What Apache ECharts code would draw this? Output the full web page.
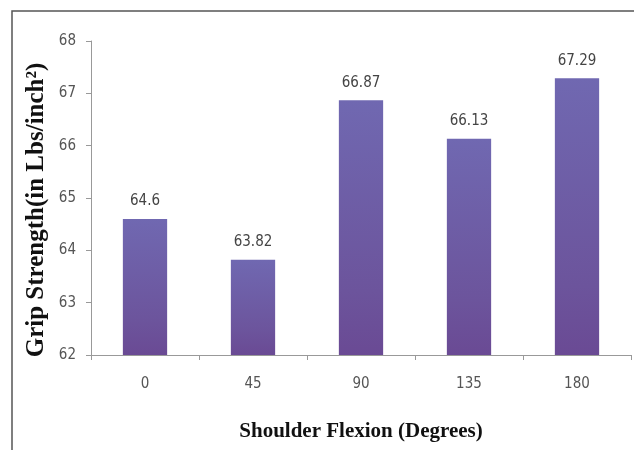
<!DOCTYPE html>
<html><head><meta charset="utf-8">
<script src="https://cdn.jsdelivr.net/npm/echarts@6/dist/echarts.min.js"></script>
<style>html,body{margin:0;padding:0;background:#fff}#c{width:634px;height:450px}</style>
</head><body><div id="c"></div>
<script>
var categories = ['0', '45', '90', '135', '180'];
var values = [64.6, 63.82, 66.87, 66.13, 67.29];
var yTicks = [62, 63, 64, 65, 66, 67, 68];
var xTitle = 'Shoulder Flexion (Degrees)';
var yTitle = 'Grip Strength(in Lbs/inch²)';

var chart = echarts.init(document.getElementById('c'), null, {renderer: 'canvas'});
chart.setOption({
  animation: false,
  backgroundColor: '#fff',
  graphic: [{
    type: 'rect', silent: true,
    shape: {x: 12, y: 11, width: 700, height: 500},
    style: {fill: 'none', stroke: '#555', lineWidth: 1.5}
  }, {
    type: 'text', silent: true,
    x: 37, y: 210, rotation: Math.PI / 2,
    style: {text: yTitle, align: 'center', verticalAlign: 'middle',
      fontFamily: 'Liberation Serif', fontWeight: 'bold', fontSize: 25, fill: '#111'}
  }],
  grid: {left: 91, right: 3, top: 41, bottom: 95},
  xAxis: {
    type: 'category', data: categories,
    name: xTitle, nameLocation: 'middle', nameGap: 66,
    nameTextStyle: {fontFamily: 'Liberation Serif', fontWeight: 'bold', fontSize: 21, color: '#111'},
    axisLine: {lineStyle: {color: '#999', width: 1}},
    axisTick: {show: true, length: 5, lineStyle: {color: '#999'}},
    axisLabel: {margin: 22, fontFamily: 'DejaVu Sans Condensed', fontSize: 15, color: '#555'}
  },
  yAxis: {
    type: 'value', min: yTicks[0], max: yTicks[yTicks.length - 1], interval: 1,
    axisLine: {show: true, lineStyle: {color: '#999', width: 1}},
    axisTick: {show: true, length: 5, lineStyle: {color: '#999'}},
    splitLine: {show: false},
    axisLabel: {margin: 15, fontFamily: 'DejaVu Sans Condensed', fontSize: 15, color: '#555'}
  },
  series: [{
    type: 'bar', data: values, barWidth: '41%',
    itemStyle: {
      color: new echarts.graphic.LinearGradient(0, 0, 0, 1, [
        {offset: 0, color: '#7068b1'},
        {offset: 0.75, color: '#6c549c'},
        {offset: 1, color: '#6a4a94'}
      ])
    },
    label: {show: true, position: 'top', distance: 10, fontFamily: 'DejaVu Sans Condensed', fontSize: 15, color: '#444'}
  }]
});
</script></body></html>
